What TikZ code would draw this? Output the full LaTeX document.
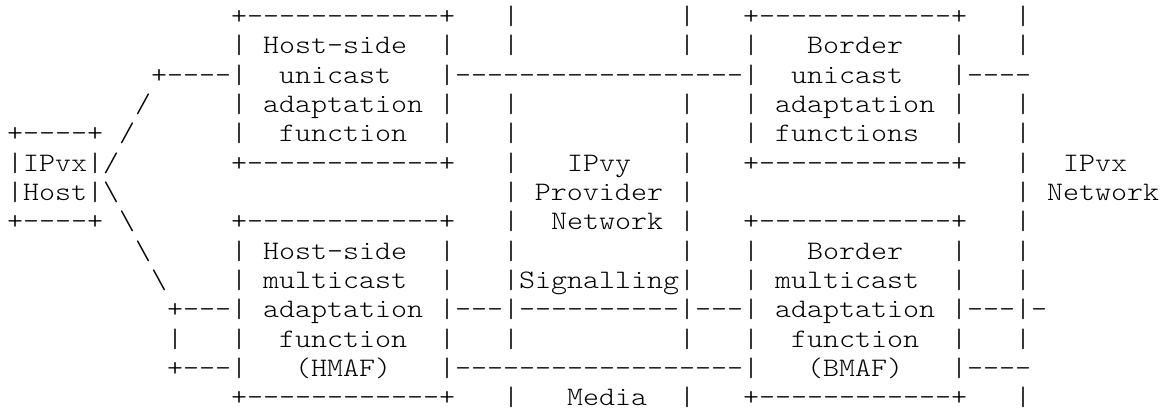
\documentclass[tikz,border=0pt]{standalone}
\usepackage{fontspec}
% thin slab-serif typewriter face, widened to a 0.6em character cell
\setmonofont{lmmonolt10-regular}[Extension=.otf,FakeStretch=1.1429]
\frenchspacing
% n blank character cells of the monospaced font
\newcommand\blanks[1]{\hspace*{#1\fontdimen2\font}}
\newcommand\bs{\textbackslash}
\begin{document}
\begin{tikzpicture}[x=1pt,y=1pt,
  asciirow/.style={anchor=base west,inner sep=0pt,outer sep=0pt,
    font=\ttfamily\fontsize{26.667pt}{29.33pt}\selectfont}]
\fill[white] (0,0) rectangle (1168,-409);
\useasboundingbox (0,0) rectangle (1168,-409);
\def\rowy#1{-24.4-29.33*#1}
\node[asciirow] (row0)  at (7,{\rowy{0}})  {\blanks{14}+------------+\blanks{3}|\blanks{10}|\blanks{3}+------------+\blanks{3}|};
\node[asciirow] (row1)  at (7,{\rowy{1}})  {\blanks{14}|~Host-side\blanks{2}|\blanks{3}|\blanks{10}|\blanks{3}|\blanks{3}Border\blanks{3}|\blanks{3}|};
\node[asciirow] (row2)  at (7,{\rowy{2}})  {\blanks{9}+----|\blanks{2}unicast\blanks{3}|------------------|\blanks{2}unicast\blanks{3}|----};
\node[asciirow] (row3)  at (7,{\rowy{3}})  {\blanks{8}/\blanks{5}|~adaptation~|\blanks{3}|\blanks{10}|\blanks{3}|~adaptation~|\blanks{3}|};
\node[asciirow] (row4)  at (7,{\rowy{4}})  {+----+~/\blanks{6}|\blanks{2}function\blanks{2}|\blanks{3}|\blanks{10}|\blanks{3}|~functions\blanks{2}|\blanks{3}|};
\node[asciirow] (row5)  at (7,{\rowy{5}})  {|IPvx|/\blanks{7}+------------+\blanks{3}|\blanks{3}IPvy\blanks{3}|\blanks{3}+------------+\blanks{3}|\blanks{2}IPvx};
\node[asciirow] (row6)  at (7,{\rowy{6}})  {|Host|\bs\blanks{24}|~Provider~|\blanks{20}|~Network};
\node[asciirow] (row7)  at (7,{\rowy{7}})  {+----+~\bs\blanks{6}+------------+\blanks{3}|\blanks{2}Network~|\blanks{3}+------------+\blanks{3}|};
\node[asciirow] (row8)  at (7,{\rowy{8}})  {\blanks{8}\bs\blanks{5}|~Host-side\blanks{2}|\blanks{3}|\blanks{10}|\blanks{3}|\blanks{3}Border\blanks{3}|\blanks{3}|};
\node[asciirow] (row9)  at (7,{\rowy{9}})  {\blanks{9}\bs\blanks{4}|~multicast\blanks{2}|\blanks{3}|Signalling|\blanks{3}|~multicast\blanks{2}|\blanks{3}|};
\node[asciirow] (row10) at (7,{\rowy{10}}) {\blanks{10}+---|~adaptation~|---|----------|---|~adaptation~|---|-};
\node[asciirow] (row11) at (7,{\rowy{11}}) {\blanks{10}|\blanks{3}|\blanks{2}function\blanks{2}|\blanks{3}|\blanks{10}|\blanks{3}|\blanks{2}function\blanks{2}|\blanks{3}|};
\node[asciirow] (row12) at (7,{\rowy{12}}) {\blanks{10}+---|\blanks{3}(HMAF)\blanks{3}|------------------|\blanks{3}(BMAF)\blanks{3}|----};
\node[asciirow] (row13) at (7,{\rowy{13}}) {\blanks{14}+------------+\blanks{3}|\blanks{3}Media\blanks{2}|\blanks{3}+------------+\blanks{3}|};
\end{tikzpicture}
\end{document}
